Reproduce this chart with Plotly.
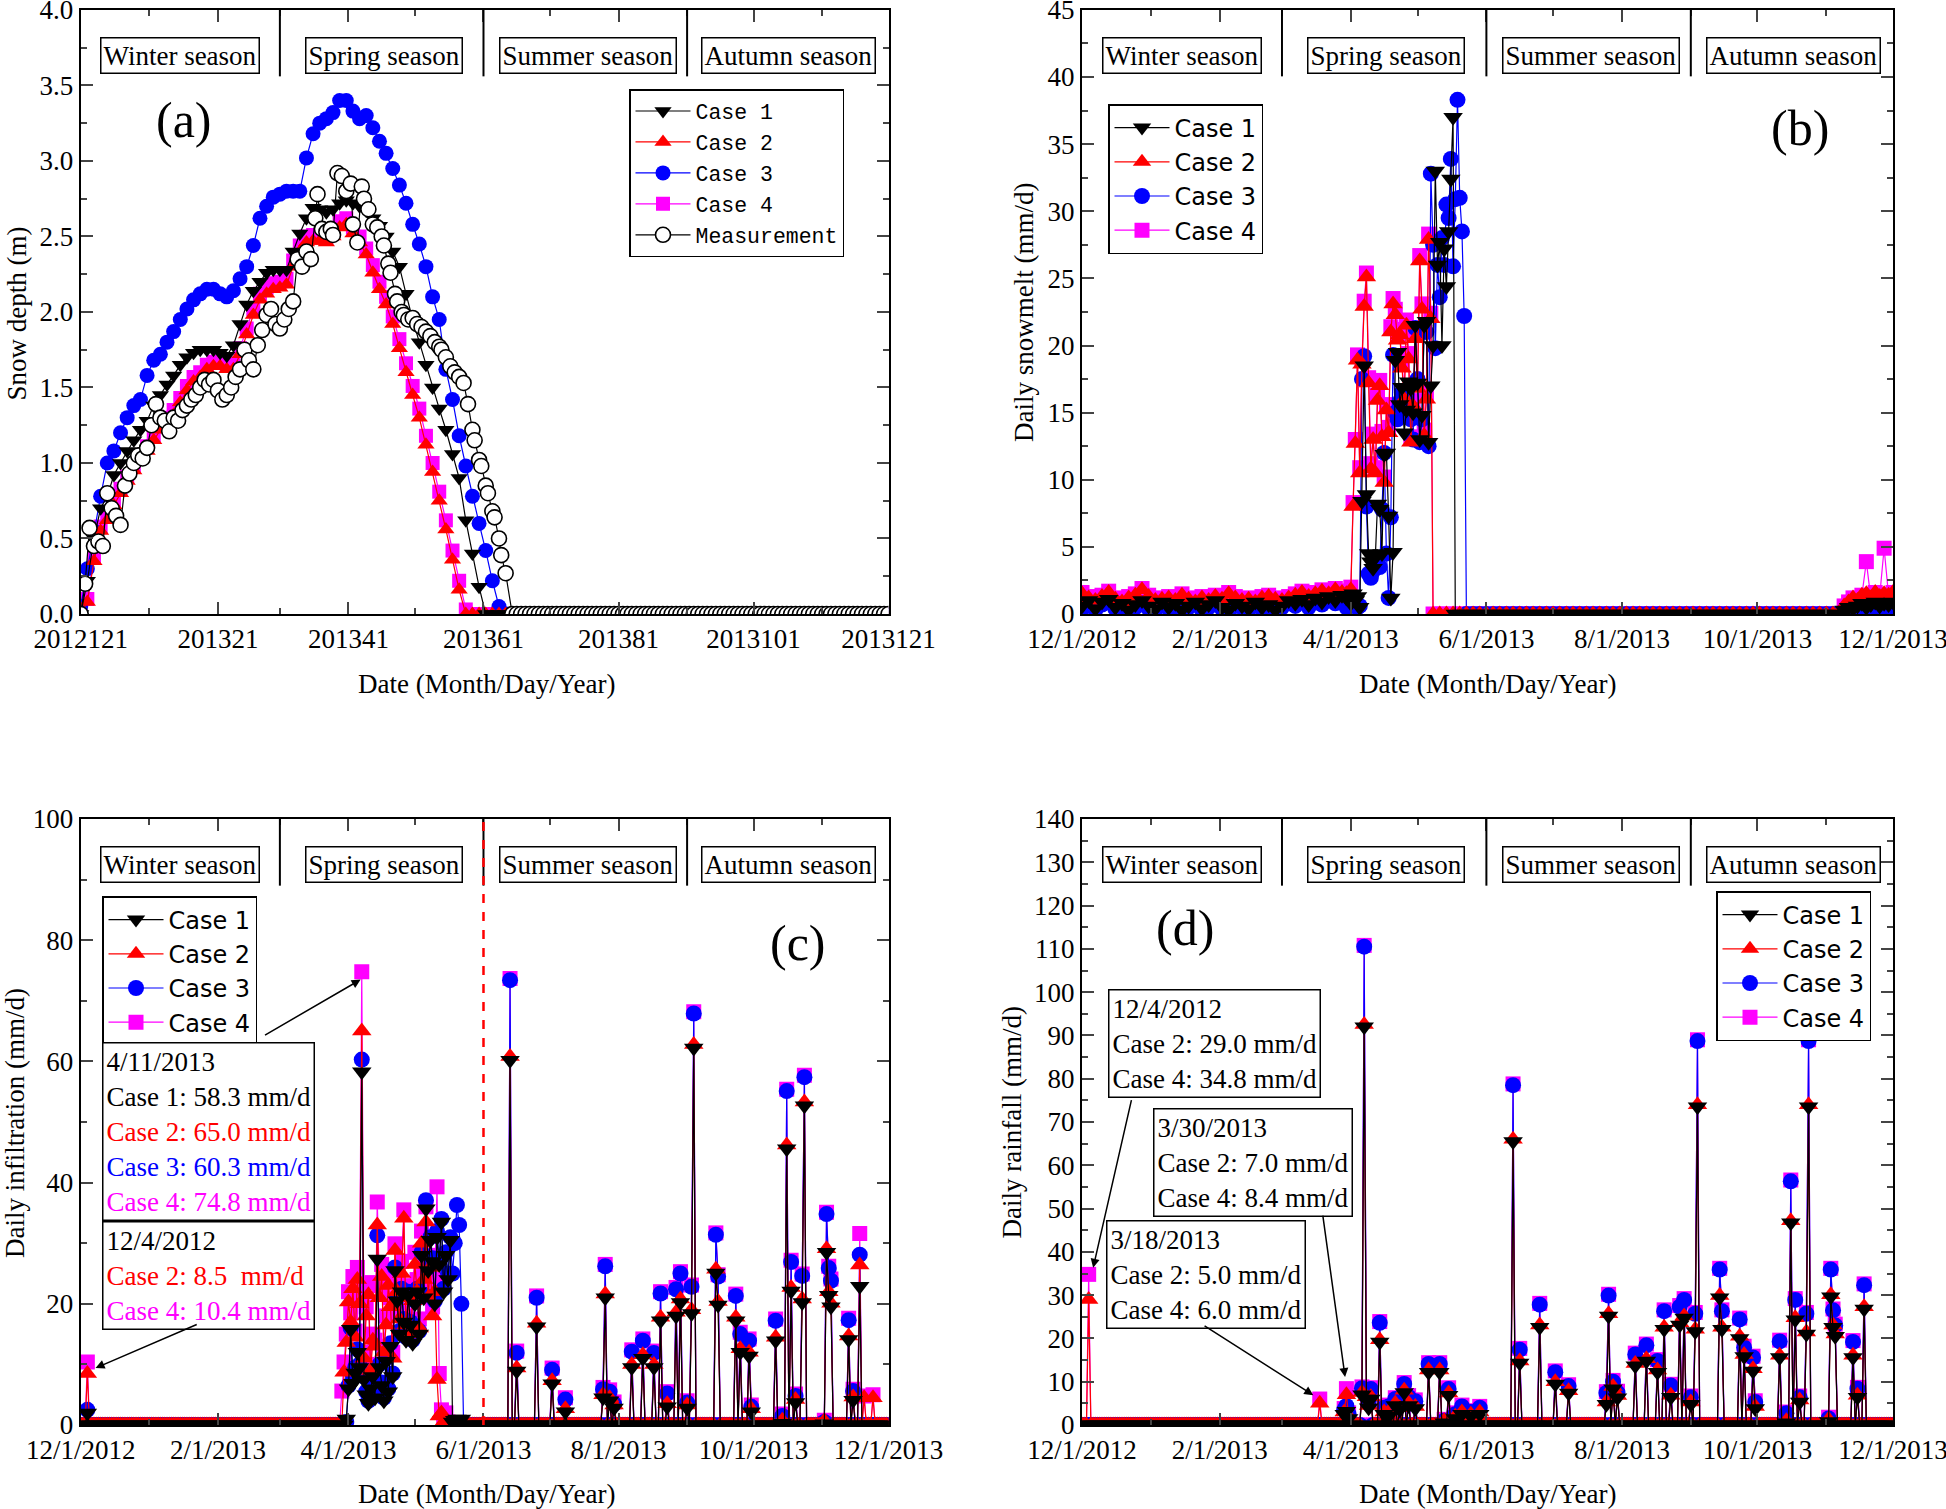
import pandas as pd
import plotly.graph_objects as go

START = pd.Timestamp("2012-12-01")
SERIF = "Liberation Serif, Times New Roman, serif"
SANS = "DejaVu Sans, Arial, sans-serif"
MONO = "Liberation Mono, Courier New, monospace"
W, H = 1946, 1509

# ---------------- (a) snow depth (m), simulated every 3rd day from 12/1/2012
snow_step = 3
snow_case1 = [0.00, 0.22, 0.50, 0.70, 0.78, 0.92, 1.00, 1.08, 1.15, 1.22, 1.28, 1.38, 1.45,
              1.52, 1.58, 1.65, 1.70, 1.73, 1.75, 1.75, 1.75, 1.73, 1.71, 1.78, 1.92, 2.05,
              2.14, 2.20, 2.26, 2.28, 2.28, 2.28, 2.40, 2.52, 2.62, 2.69, 2.68, 2.66, 2.68,
              2.72, 2.74, 2.72, 2.70, 2.67, 2.62, 2.57, 2.50, 2.40, 2.30, 2.12, 1.95, 1.80,
              1.65, 1.50, 1.36, 1.22, 1.06, 0.90, 0.62, 0.40, 0.18, 0.00, 0.00, 0.00, 0.00]
snow_case2 = [0.00, 0.08, 0.35, 0.55, 0.62, 0.72, 0.80, 0.88, 0.95, 1.02, 1.08, 1.15, 1.22,
              1.27, 1.32, 1.40, 1.48, 1.54, 1.57, 1.62, 1.64, 1.64, 1.62, 1.62, 1.72, 1.85,
              1.98, 2.08, 2.12, 2.15, 2.16, 2.18, 2.30, 2.40, 2.46, 2.47, 2.47, 2.46, 2.50,
              2.56, 2.58, 2.52, 2.46, 2.38, 2.26, 2.15, 2.05, 1.92, 1.76, 1.60, 1.45, 1.30,
              1.12, 0.94, 0.75, 0.56, 0.36, 0.16, 0.00, 0.00, 0.00, 0.00, 0.00, 0.00, 0.00]
snow_case3 = [0.05, 0.30, 0.55, 0.78, 1.00, 1.08, 1.20, 1.30, 1.38, 1.42, 1.58, 1.68, 1.72,
              1.80, 1.87, 1.95, 2.02, 2.08, 2.12, 2.15, 2.15, 2.12, 2.10, 2.14, 2.22, 2.30,
              2.44, 2.62, 2.70, 2.76, 2.78, 2.80, 2.80, 2.80, 3.02, 3.18, 3.25, 3.28, 3.32,
              3.40, 3.40, 3.33, 3.28, 3.30, 3.22, 3.13, 3.05, 2.95, 2.84, 2.72, 2.58, 2.45,
              2.30, 2.10, 1.95, 1.62, 1.42, 1.18, 0.98, 0.78, 0.60, 0.42, 0.22, 0.05, 0.00]
snow_case4 = [0.00, 0.10, 0.38, 0.58, 0.65, 0.75, 0.83, 0.91, 0.98, 1.05, 1.11, 1.18, 1.25,
              1.30, 1.35, 1.43, 1.51, 1.57, 1.60, 1.65, 1.67, 1.67, 1.65, 1.66, 1.76, 1.89,
              2.02, 2.12, 2.16, 2.19, 2.20, 2.22, 2.34, 2.44, 2.50, 2.51, 2.51, 2.50, 2.54,
              2.60, 2.62, 2.56, 2.50, 2.42, 2.31, 2.20, 2.10, 1.97, 1.82, 1.66, 1.51, 1.36,
              1.18, 1.00, 0.81, 0.62, 0.42, 0.22, 0.03, 0.00, 0.00, 0.00, 0.00, 0.00, 0.00]
meas_day = [0, 2, 4, 6, 8, 10, 12, 14, 16, 18, 20, 22, 24, 26, 28, 30, 32, 34, 36, 38, 40,
            42, 44, 46, 48, 50, 52, 54, 56, 58, 60, 62, 64, 66, 68, 70, 72, 74, 76, 78, 80,
            82, 84, 86, 88, 90, 92, 94, 96, 98, 100, 102, 104, 106, 107, 109, 111, 113, 114,
            116, 118, 120, 122, 123, 125, 127, 128, 130, 132, 134, 136, 137, 139, 140, 142,
            143, 145, 146, 148, 150, 152, 154, 156, 158, 160, 162, 163, 165, 167, 169, 171,
            173, 175, 177, 178, 180, 181, 183, 184, 186, 187, 189, 190, 192]
meas_depth = [0.00, 0.20, 0.57, 0.45, 0.48, 0.45, 0.80, 0.70, 0.65, 0.59, 0.85, 0.93, 1.00,
              1.05, 1.03, 1.10, 1.25, 1.39, 1.30, 1.28, 1.21, 1.30, 1.28, 1.35, 1.38, 1.42,
              1.45, 1.50, 1.55, 1.52, 1.55, 1.48, 1.42, 1.45, 1.50, 1.57, 1.62, 1.75, 1.68,
              1.62, 1.78, 1.88, 1.98, 2.02, 1.92, 1.89, 1.95, 2.02, 2.07, 2.35, 2.30, 2.40,
              2.35, 2.62, 2.78, 2.55, 2.53, 2.55, 2.51, 2.92, 2.90, 2.80, 2.85, 2.58, 2.46,
              2.83, 2.75, 2.68, 2.58, 2.56, 2.50, 2.44, 2.32, 2.26, 2.12, 2.07, 2.00, 1.98,
              1.95, 1.96, 1.92, 1.90, 1.87, 1.84, 1.80, 1.77, 1.75, 1.70, 1.64, 1.60, 1.57,
              1.53, 1.39, 1.22, 1.15, 1.02, 0.98, 0.85, 0.80, 0.68, 0.64, 0.50, 0.39, 0.27]
snow_free_from = 195      # no snow left after this day, all series at 0 m

# ---------------- (b) daily snowmelt (mm/d)
melt_winter_step = 3      # 12/1/2012 .. 3/28/2013
melt_winter = {
    1: [0.6, 1.0, 0.4, 0.9, 1.1, 0.5, 0.8, 0.3, 0.7, 1.0, 0.6, 0.4, 0.9, 0.5, 0.8, 0.3, 0.6, 0.9, 0.4, 0.7,
        1.0, 0.5, 0.3, 0.8, 0.6, 0.4, 0.9, 0.5, 0.7, 0.3, 0.6, 1.0, 0.8, 1.1, 0.7, 1.2, 0.9, 1.3, 1.0, 1.4],
    2: [1.5, 1.2, 1.0, 1.3, 1.6, 1.1, 0.9, 1.2, 1.4, 1.8, 1.3, 1.0, 1.1, 1.2, 1.0, 1.4, 1.1, 0.9, 1.2, 1.0,
        1.3, 1.1, 1.5, 1.2, 1.0, 1.1, 0.9, 1.2, 1.3, 1.1, 1.0, 1.2, 1.4, 1.6, 1.3, 1.5, 1.7, 1.5, 1.8, 1.6],
    3: [0.4, 0.8, 0.3, 0.7, 0.9, 0.4, 0.6, 0.2, 0.5, 0.8, 0.4, 0.3, 0.7, 0.4, 0.6, 0.2, 0.5, 0.7, 0.3, 0.5,
        0.8, 0.4, 0.2, 0.6, 0.5, 0.3, 0.7, 0.4, 0.5, 0.2, 0.5, 0.8, 0.6, 0.9, 0.5, 1.0, 0.7, 1.1, 0.8, 1.2],
    4: [1.6, 1.3, 1.1, 1.4, 1.7, 1.2, 1.0, 1.3, 1.5, 1.9, 1.4, 1.1, 1.2, 1.3, 1.1, 1.5, 1.2, 1.0, 1.3, 1.1,
        1.4, 1.2, 1.6, 1.3, 1.1, 1.2, 1.0, 1.3, 1.4, 1.2, 1.1, 1.3, 1.5, 1.7, 1.4, 1.6, 1.8, 1.6, 1.9, 1.7],
}
melt_spring_start = 119   # daily from 3/30/2013
melt_spring = {
    1: [1.2, 1.4, 0.8, 1.5, 1.0, 1.3, 0.5, 8.4, 18.5, 8.9, 4.5, 3.9, 3.4, 4.2, 8.2, 7.8, 4.5, 11.9, 12.0,
        7.3, 1.2, 4.6, 18.9, 19.5, 15.6, 16.9, 13.5, 15.2, 17.3, 16.8, 15.0, 21.5, 17.2, 13.0, 14.8, 21.5,
        21.8, 12.8, 17.0, 20.0, 33.0, 26.0, 27.7, 20.0, 27.2, 24.4, 28.5, 32.4, 37.0, 0.0],
    2: [1.5, 1.2, 1.8, 8.0, 12.7, 18.9, 10.5, 18.6, 22.9, 25.1, 17.2, 10.8, 13.0, 10.5, 15.9, 17.0, 13.2,
        9.8, 15.2, 13.5, 21.0, 23.1, 22.3, 20.4, 20.8, 18.3, 16.0, 21.5, 19.0, 12.8, 15.5, 20.5, 16.8,
        26.3, 22.7, 13.3, 16.0, 27.9, 22.0, 0.0],
    3: [0.5, 0.8, 1.2, 0.6, 1.0, 0.5, 0.6, 17.5, 19.2, 8.0, 3.0, 2.7, 3.2, 3.6, 4.0, 3.5, 7.8, 12.0, 4.5,
        1.2, 7.2, 19.3, 15.0, 14.5, 15.8, 16.5, 14.8, 16.0, 15.2, 14.5, 13.0, 21.3, 17.5, 12.8, 14.5, 21.5,
        21.0, 12.5, 32.8, 27.5, 19.8, 26.0, 23.6, 28.0, 26.0, 30.5, 29.5, 33.9, 25.9, 30.9, 38.3, 31.0,
        28.5, 22.2, 0.0],
    4: [1.7, 1.4, 2.0, 8.3, 13.0, 19.3, 10.9, 19.0, 23.3, 25.4, 17.6, 11.2, 13.4, 10.9, 16.3, 17.4, 13.6,
        10.2, 15.6, 13.9, 21.4, 23.5, 22.7, 20.8, 21.2, 18.7, 16.4, 21.9, 19.4, 13.2, 15.9, 20.9, 17.2,
        26.7, 23.1, 13.7, 16.4, 28.3, 22.4, 0.0],
}
melt_late_start, melt_late_step = 343, 2   # 11/9/2013 .. 12/1/2013
melt_late = {
    1: [0.3, 0.5, 0.4, 0.6, 0.8, 0.5, 0.7, 0.9, 0.6, 0.8, 0.7, 0.9],
    2: [0.6, 0.9, 1.2, 1.0, 1.4, 1.5, 1.2, 1.6, 1.3, 1.5, 1.4, 1.6],
    3: [0.2, 0.3, 0.4, 0.3, 0.5, 0.4, 0.6, 0.5, 0.4, 0.6, 0.5, 0.7],
    4: [0.6, 0.9, 1.2, 1.0, 1.4, 3.9, 1.2, 1.6, 1.3, 4.9, 1.4, 1.6],
}

# ---------------- (c) daily infiltration (mm/d); all other days are 0
infil_spring_start = 117  # daily 3/28/2013 .. 5/23/2013
infil_spring = {
    1: [0, 0, 0, 1.0, 6.0, 15.8, 6.9, 8.6, 12.0, 9.5, 58.3, 7.5, 5.0, 3.6, 6.0, 8.0, 4.5, 27.4, 9.5, 6.5,
        4.0, 10.5, 5.5, 13.0, 8.0, 25.5, 20.5, 15.0, 22.0, 17.0, 14.0, 21.5, 16.5, 13.5, 20.0, 22.0, 15.0,
        28.0, 21.0, 35.7, 25.5, 30.5, 27.0, 20.0, 31.0, 26.5, 33.5, 22.0, 28.0, 24.0, 30.5, 0.5, 0.8,
        1.0, 0.5, 1.0, 0],
    2: [0, 0, 8.7, 13.6, 20.3, 17.0, 22.5, 14.5, 24.0, 20.0, 65.0, 11.0, 18.0, 21.5, 9.0, 14.0, 13.0,
        33.0, 21.0, 24.5, 12.0, 16.5, 23.0, 19.5, 11.0, 28.8, 22.0, 17.5, 25.0, 34.1, 16.5, 21.0, 15.0,
        20.5, 26.5, 22.0, 16.0, 30.0, 24.0, 33.5, 21.0, 26.0, 18.0, 22.0, 7.5, 1.5, 2.0, 0.5, 0, 0, 0,
        0, 0, 0, 0, 0, 0],
    3: [0, 0, 0, 0.5, 6.5, 16.0, 8.0, 9.5, 12.5, 10.0, 60.3, 8.0, 5.5, 4.0, 6.5, 8.5, 5.0, 31.3, 10.0,
        7.0, 4.5, 11.0, 6.0, 13.5, 8.5, 26.0, 21.0, 15.5, 22.5, 17.5, 14.5, 22.0, 17.0, 14.0, 20.5, 22.5,
        15.5, 28.5, 21.5, 37.1, 26.0, 31.0, 27.5, 20.5, 32.0, 27.0, 34.0, 22.5, 28.5, 25.0, 31.0, 25.0,
        30.0, 36.3, 33.0, 20.0, 0],
    4: [0, 5.6, 10.4, 15.0, 22.0, 18.5, 24.5, 15.5, 26.0, 21.5, 74.8, 12.0, 19.5, 23.5, 10.0, 15.0, 14.0,
        36.8, 23.0, 26.5, 13.0, 18.0, 25.0, 21.0, 12.0, 29.9, 24.0, 19.0, 27.0, 35.5, 18.0, 23.0, 16.5,
        22.0, 28.5, 24.0, 17.5, 32.0, 26.0, 36.0, 23.0, 28.0, 19.5, 24.0, 39.3, 8.5, 2.5, 1.5, 2.0, 0.5,
        0, 0, 0, 0, 0, 0, 0],
}
infil_event_day = [3, 194, 197, 206, 213, 219, 236, 237, 239, 241, 249, 254, 259, 262, 265, 269, 271,
                   274, 276, 277, 287, 288, 296, 298, 302, 303, 314, 317, 319, 321, 323, 326, 327, 336,
                   337, 338, 339, 347, 349, 352, 354, 358]
infil_event = {
    1: [2.0, 60.2, 8.9, 16.2, 6.8, 2.2, 4.5, 21.0, 4.0, 2.8, 9.5, 11.0, 9.5, 17.2, 3.0, 18.0, 20.2, 2.8,
        18.4, 62.2, 25.1, 19.8, 17.2, 12.0, 11.4, 2.2, 13.9, 0.3, 45.6, 22.1, 3.7, 20.2, 52.7, 0.2, 28.5,
        21.4, 19.5, 14.1, 4.1, 22.9, 0.0, 0.0],
    2: [8.5, 60.8, 9.4, 16.8, 7.3, 2.7, 5.0, 21.6, 4.5, 3.3, 10.0, 11.6, 10.0, 17.8, 3.5, 18.6, 20.8, 3.3,
        19.0, 62.8, 25.7, 20.4, 17.8, 12.6, 12.0, 2.7, 14.5, 0.8, 46.2, 22.7, 4.2, 20.8, 53.3, 0.7, 29.1,
        22.0, 20.1, 14.7, 4.6, 26.4, 4.5, 4.5],
    3: [2.5, 73.4, 11.9, 21.0, 9.1, 4.2, 5.9, 26.2, 5.5, 3.5, 12.1, 13.9, 11.9, 21.7, 5.2, 22.4, 25.0, 3.7,
        22.8, 67.9, 31.4, 24.5, 21.3, 15.0, 13.9, 3.0, 17.2, 1.5, 55.1, 26.9, 4.8, 24.6, 57.4, 0.5, 34.8,
        25.9, 23.8, 17.3, 5.6, 28.1, 0.0, 0.0],
    4: [10.4, 73.7, 12.2, 21.3, 9.4, 4.5, 6.2, 26.5, 5.8, 3.8, 12.4, 14.2, 12.2, 22.0, 5.5, 22.7, 25.3,
        4.0, 23.1, 68.2, 31.7, 24.8, 21.6, 15.3, 14.2, 3.3, 17.5, 1.8, 55.4, 27.2, 5.1, 24.9, 57.7, 0.8,
        35.1, 26.2, 24.1, 17.6, 5.9, 31.6, 4.8, 5.0],
}

# ---------------- (d) daily rainfall (mm/d); all other days are 0
rain_event_day = [3, 107, 118, 119, 120, 126, 127, 128, 129, 130, 134, 136, 138, 141, 143, 145, 147,
                  150, 156, 161, 163, 165, 168, 171, 175, 179, 194, 197, 206, 213, 219, 236, 237, 239,
                  241, 249, 254, 259, 262, 265, 269, 271, 274, 276, 277, 287, 288, 296, 298, 302, 303,
                  314, 317, 319, 321, 323, 326, 327, 336, 337, 338, 339, 347, 349, 352]
rain_event = {
    1: [0.0, 0.0, 2.5, 3.2, 1.5, 7.0, 92.0, 6.0, 4.0, 6.0, 19.2, 2.5, 2.0, 4.5, 3.5, 7.5, 4.5, 3.8, 12.2,
        12.2, 0.5, 6.9, 1.5, 2.5, 2.0, 2.5, 65.5, 14.3, 22.6, 9.5, 7.4, 4.8, 25.2, 8.4, 6.3, 13.7, 14.8,
        12.2, 22.1, 6.4, 23.1, 24.7, 4.8, 21.6, 73.5, 29.4, 22.1, 20.0, 15.8, 12.5, 3.8, 15.6, 0.5, 46.7,
        24.3, 5.3, 21.0, 73.5, 0.8, 29.6, 22.6, 20.5, 15.6, 6.4, 26.8],
    2: [29.0, 5.0, 3.0, 7.0, 2.0, 7.5, 92.5, 6.5, 4.5, 6.5, 19.7, 3.0, 2.5, 5.0, 4.0, 8.0, 5.0, 4.3, 12.7,
        12.7, 1.0, 7.4, 2.0, 3.0, 2.5, 3.0, 66.0, 14.8, 23.1, 10.0, 7.9, 5.3, 25.7, 8.9, 6.8, 14.2, 15.3,
        12.7, 22.6, 6.9, 23.6, 25.2, 5.3, 22.1, 74.0, 29.9, 22.6, 20.5, 16.3, 13.0, 4.3, 16.1, 1.0, 47.2,
        24.8, 5.8, 21.5, 74.0, 1.3, 30.1, 23.1, 21.0, 16.1, 6.9, 27.3],
    3: [0.0, 0.0, 3.5, 4.4, 2.5, 8.5, 110.5, 7.5, 5.5, 8.3, 23.6, 4.0, 4.3, 6.0, 5.0, 9.5, 6.5, 5.5, 14.1,
        14.1, 1.0, 8.3, 2.5, 4.3, 3.0, 4.0, 78.5, 17.4, 27.8, 12.2, 9.0, 7.4, 29.9, 10.0, 7.5, 16.3, 18.4,
        14.8, 26.3, 9.1, 27.3, 28.9, 6.4, 25.7, 88.7, 35.9, 26.3, 24.4, 17.9, 15.6, 5.3, 19.3, 2.7, 56.3,
        28.9, 6.4, 25.7, 88.7, 1.5, 35.9, 26.5, 23.0, 19.2, 8.4, 32.3],
    4: [34.8, 6.0, 3.8, 8.4, 2.8, 8.8, 110.8, 7.8, 5.8, 8.6, 23.9, 4.3, 4.6, 6.3, 5.3, 9.8, 6.8, 5.8, 14.4,
        14.4, 1.3, 8.6, 2.8, 4.6, 3.3, 4.3, 78.8, 17.7, 28.1, 12.5, 9.3, 7.7, 30.2, 10.3, 7.8, 16.6, 18.7,
        15.1, 26.6, 9.4, 27.6, 29.2, 6.7, 26.0, 89.0, 36.2, 26.6, 24.7, 18.2, 15.9, 5.6, 19.6, 3.0, 56.6,
        29.2, 6.7, 26.0, 89.0, 1.8, 36.2, 26.8, 23.3, 19.5, 8.7, 32.6],
}

# ---------------- axis ticks
tick_dates = ["2012-12-01", "2013-02-01", "2013-04-01", "2013-06-01", "2013-08-01",
              "2013-10-01", "2013-12-01"]
tick_text_a = ["2012121", "201321", "201341", "201361", "201381", "2013101", "2013121"]
tick_text = ["12/1/2012", "2/1/2013", "4/1/2013", "6/1/2013", "8/1/2013", "10/1/2013", "12/1/2013"]
season_names = ["Winter season", "Spring season", "Summer season", "Autumn season"]
season_label_at = ["2013-01-15", "2013-04-17", "2013-07-18", "2013-10-17"]
season_breaks = ["2013-03-01", "2013-06-01", "2013-09-01"]

CASES = {
    1: dict(name="Case 1", color="#000000", symbol="triangle-down"),
    2: dict(name="Case 2", color="#FF0000", symbol="triangle-up"),
    3: dict(name="Case 3", color="#0000FF", symbol="circle"),
    4: dict(name="Case 4", color="#FF00FF", symbol="square"),
}
SIZE_A = {"triangle-down": 15, "triangle-up": 15, "circle": 15, "square": 14}
SIZE_B = {"triangle-down": 17, "triangle-up": 17, "circle": 16, "square": 15}


def px(x):
    return x / W


def py(y):
    return 1 - y / H


def dates(days):
    return [START + pd.Timedelta(days=float(d)) for d in days]


def steps(values, start, step):
    return [start + i * step for i in range(len(values))]


def daily(spring_start, spring, ev_days, ev_vals):
    v = [0.0] * 366
    if spring is not None:
        for i, val in enumerate(spring):
            v[spring_start + i] = val
    for d, val in zip(ev_days, ev_vals):
        v[d] = val
    return v


fig = go.Figure()


def add_case(k, x, y, xa, ya, legend, sizes):
    st = CASES[k]
    fig.add_trace(go.Scatter(
        x=dates(x), y=y, mode="lines+markers", name=st["name"],
        line=dict(color=st["color"], width=1.2),
        marker=dict(symbol=st["symbol"], color=st["color"], size=sizes[st["symbol"]],
                    line=dict(width=0)),
        xaxis=xa, yaxis=ya, legend=legend, legendrank=k))


# (a)
snow = {1: snow_case1, 2: snow_case2, 3: snow_case3, 4: snow_case4}
for k in (4, 3, 2, 1):
    days = steps(snow[k], 0, snow_step)
    tail = list(range(snow_free_from, 366, 3))
    add_case(k, days + tail, snow[k] + [0.0] * len(tail), "x", "y", "legend", SIZE_A)
meas_tail = list(range(snow_free_from, 366, 2))
fig.add_trace(go.Scatter(
    x=dates(meas_day + meas_tail), y=meas_depth + [0.0] * len(meas_tail),
    mode="lines+markers", name="Measurement", line=dict(color="black", width=1.2),
    marker=dict(symbol="circle", color="white", size=15, line=dict(color="black", width=1.6)),
    xaxis="x", yaxis="y", legend="legend", legendrank=5))

# (b)
for k in (4, 3, 2, 1):
    wd = steps(melt_winter[k], 0, melt_winter_step)
    sd = steps(melt_spring[k], melt_spring_start, 1)
    zd = list(range(sd[-1] + 3, melt_late_start - 1, 3))
    ld = steps(melt_late[k], melt_late_start, melt_late_step)
    add_case(k, wd + sd + zd + ld,
             melt_winter[k] + melt_spring[k] + [0.0] * len(zd) + melt_late[k],
             "x2", "y2", "legend2", SIZE_B)

# (c)
all_days = list(range(366))
for k in (4, 3, 2, 1):
    add_case(k, all_days, daily(infil_spring_start, infil_spring[k], infil_event_day, infil_event[k]),
             "x3", "y3", "legend3", SIZE_B)

# (d)
for k in (4, 3, 2, 1):
    add_case(k, all_days, daily(0, None, rain_event_day, rain_event[k]),
             "x4", "y4", "legend4", SIZE_B)

# ---------------- layout
XL = [px(80.7), px(888.5)]
XR = [px(1082), px(1893)]
YT = [py(614), py(9.9)]
YB = [py(1425), py(819)]


def xaxis(dom, anchor, texts):
    return dict(domain=dom, anchor=anchor, type="date",
                range=["2012-12-01", "2013-12-01"], tickmode="array",
                tickvals=tick_dates, ticktext=texts, ticks="inside", ticklen=12, tickwidth=2,
                minor=dict(ticks="inside", ticklen=6, tickwidth=2, dtick="M1", tick0="2012-12-01"),
                showline=True, linewidth=2, linecolor="black", mirror="ticks",
                showgrid=False, zeroline=False, automargin=False, ticklabelstandoff=0,
                ticklabeloverflow="allow",
                tickfont=dict(family=SERIF, size=27, color="black"))


def yaxis(dom, anchor, top, dt, fmt):
    return dict(domain=dom, anchor=anchor, range=[0, top], dtick=dt, tick0=0, tickformat=fmt,
                ticks="inside", ticklen=12, tickwidth=2,
                minor=dict(ticks="inside", ticklen=6, tickwidth=2, dtick=dt / 2, tick0=0),
                showline=True, linewidth=2, linecolor="black", mirror="ticks",
                showgrid=False, zeroline=False, automargin=False, ticklabelstandoff=0,
                ticklabeloverflow="allow",
                tickfont=dict(family=SERIF, size=27, color="black"))


def legend_box(x, y, family, size):
    return dict(x=px(x), y=py(y), xanchor="left", yanchor="top", bgcolor="white",
                bordercolor="black", borderwidth=1.5, font=dict(family=family, size=size, color="black"),
                itemwidth=55, tracegroupgap=0, traceorder="normal")


annotations = []
shapes = []
for xr, yr in (("x", "y"), ("x2", "y2"), ("x3", "y3"), ("x4", "y4")):
    for name, at in zip(season_names, season_label_at):
        annotations.append(dict(x=at, y=0.925, xref=xr, yref=yr + " domain", text=name,
                                xanchor="center", yanchor="middle",
                                showarrow=False, font=dict(family=SERIF, size=27, color="black"),
                                bordercolor="black", borderwidth=1.5, borderpad=2, bgcolor="white"))
    for b in season_breaks:
        shapes.append(dict(type="line", x0=b, x1=b, y0=0.89, y1=1, xref=xr, yref=yr + " domain",
                           line=dict(color="black", width=2)))
shapes.append(dict(type="line", x0="2013-06-01", x1="2013-06-01", y0=0, y1=1, xref="x3",
                   yref="y3 domain", line=dict(color="#FF0000", width=2.5, dash="dash")))

# panel letters
for txt, x, y in (("(a)", 183.7, 120), ("(b)", 1799.6, 128), ("(c)", 798, 943), ("(d)", 1185, 928)):
    annotations.append(dict(x=px(x), y=py(y), xref="paper", yref="paper", text=txt,
                            xanchor="center", yanchor="middle",
                            showarrow=False, font=dict(family=SERIF, size=50, color="black")))

# axis titles
for txt, x, y, ang in (("Snow depth (m)", 17.4, 313, -90),
                       ("Daily snowmelt (mm/d)", 1024, 313, -90),
                       ("Daily infiltration (mm/d)", 15, 1123, -90),
                       ("Daily rainfall (mm/d)", 1011.5, 1123, -90),
                       ("Date (Month/Day/Year)", 486.5, 684, 0),
                       ("Date (Month/Day/Year)", 1487, 684, 0),
                       ("Date (Month/Day/Year)", 486.5, 1494, 0),
                       ("Date (Month/Day/Year)", 1487, 1494, 0)):
    annotations.append(dict(x=px(x), y=py(y), xref="paper", yref="paper", text=txt,
                            xanchor="center", yanchor="middle", textangle=ang, showarrow=False,
                            font=dict(family=SERIF, size=27, color="black")))


def red(t):
    return "<span style='color:#FF0000'>" + t + "</span>"


def blue(t):
    return "<span style='color:#0000FF'>" + t + "</span>"


def mag(t):
    return "<span style='color:#FF00FF'>" + t + "</span>"


note_boxes = [
    (102, 1042, "4/11/2013<br>Case 1: 58.3 mm/d<br>" + red("Case 2: 65.0 mm/d") + "<br>"
     + blue("Case 3: 60.3 mm/d") + "<br>" + mag("Case 4: 74.8 mm/d")),
    (102, 1221, "12/4/2012<br>" + red("Case 2: 8.5\u00a0\u00a0mm/d") + "<br>" + mag("Case 4: 10.4 mm/d")),
    (1108, 989, "12/4/2012<br>Case 2: 29.0 mm/d<br>Case 4: 34.8 mm/d"),
    (1153, 1108, "3/30/2013<br>Case 2: 7.0 mm/d<br>Case 4: 8.4 mm/d"),
    (1106, 1220, "3/18/2013<br>Case 2: 5.0 mm/d<br>Case 4: 6.0 mm/d"),
]
for x, y, txt in note_boxes:
    annotations.append(dict(x=px(x), y=py(y), xref="paper", yref="paper", text=txt,
                            xanchor="left", yanchor="top", align="left", showarrow=False,
                            font=dict(family=SERIF, size=27, color="black"),
                            bordercolor="black", borderwidth=1.5, borderpad=3, bgcolor="white"))

# arrows: (axis, head day, head value, tail day, tail value)
arrows = [("3", 126.5, 73.5, 82.6, 64.2), ("3", 6.7, 9.4, 53.1, 16.7),
          ("4", 5.0, 36.3, 22.4, 75.4), ("4", 118.4, 11.1, 108.3, 48.7),
          ("4", 104.1, 6.9, 54.5, 23.1)]
for ax_id, hx, hy, tx, ty in arrows:
    annotations.append(dict(x=dates([hx])[0], y=hy, ax=dates([tx])[0], ay=ty,
                            xref="x" + ax_id, yref="y" + ax_id, axref="x" + ax_id, ayref="y" + ax_id,
                            text="", showarrow=True, arrowhead=2, arrowsize=1.2, arrowwidth=1.5,
                            arrowcolor="black", standoff=0))

fig.update_layout(
    width=W, height=H, margin=dict(l=0, r=0, t=0, b=0),
    paper_bgcolor="white", plot_bgcolor="white",
    font=dict(family=SERIF, size=27, color="black"),
    xaxis=xaxis(XL, "y", tick_text_a), yaxis=yaxis(YT, "x", 4.0, 0.5, ".1f"),
    xaxis2=xaxis(XR, "y2", tick_text), yaxis2=yaxis(YT, "x2", 45, 5, "d"),
    xaxis3=xaxis(XL, "y3", tick_text), yaxis3=yaxis(YB, "x3", 100, 20, "d"),
    xaxis4=xaxis(XR, "y4", tick_text), yaxis4=yaxis(YB, "x4", 140, 10, "d"),
    legend=legend_box(629, 89, MONO, 21.5),
    legend2=legend_box(1108, 104, SANS, 24),
    legend3=legend_box(102, 896, SANS, 24),
    legend4=legend_box(1716, 891, SANS, 24),
    annotations=annotations, shapes=shapes, showlegend=True,
)

# drop the browser's default 8px page margin so the figure sits at the window's corner
fig.write_html("out.html", config={"displayModeBar": False},
               post_script="document.body.style.margin='0';"
                           "document.documentElement.style.overflow='hidden';")
